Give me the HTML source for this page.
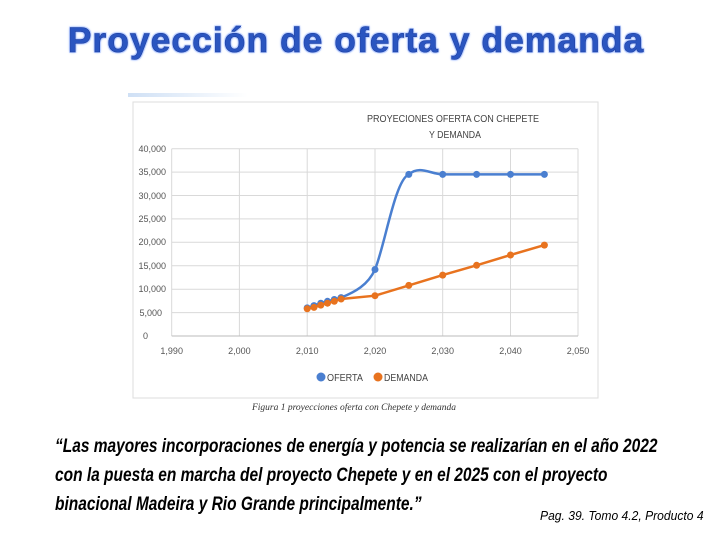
<!DOCTYPE html>
<html><head><meta charset="utf-8"><style>
body{margin:0;width:720px;height:540px;background:#fff;position:relative;overflow:hidden;font-family:"Liberation Sans",sans-serif}
.t{position:absolute;left:-4px;width:720px;top:20px;text-align:center;font-weight:bold;font-size:35.5px;color:#2a55c0;letter-spacing:1px;-webkit-text-stroke:0.5px #1a3a9a;text-shadow:0 0 2px #9ab8ff,0 0 3px #b8ccff,1px 1px 0 #c8d8ff,-1px -1px 0 #c8d8ff,1px -1px 0 #c8d8ff,-1px 1px 0 #c8d8ff}
.q{position:absolute;left:55px;white-space:nowrap;transform:scaleX(0.815);transform-origin:0 0;font-weight:bold;font-style:italic;font-size:19px;color:#000}
.p{position:absolute;left:540px;top:508px;white-space:nowrap;transform:scaleX(0.93);transform-origin:0 0;font-style:italic;font-size:13px}
</style></head><body>
<div class="t">Proyección de oferta y demanda</div>
<svg width="720" height="540" style="position:absolute;left:0;top:0" font-family="Liberation Sans, sans-serif">
<defs><linearGradient id="g" x1="0" x2="1"><stop offset="0" stop-color="#cfe0f5"/><stop offset="1" stop-color="#fff"/></linearGradient></defs>
<rect x="128" y="93" width="120" height="4" fill="url(#g)"/>
<rect x="133" y="102" width="465" height="296" fill="#fff" stroke="#ddd"/>
<text x="453" y="122" font-size="10.5" text-anchor="middle" fill="#444" textLength="172" lengthAdjust="spacingAndGlyphs">PROYECIONES  OFERTA CON  CHEPETE</text>
<text x="455" y="138" font-size="10.5" text-anchor="middle" fill="#444" textLength="52" lengthAdjust="spacingAndGlyphs">Y DEMANDA</text>
<g stroke="#d9d9d9" stroke-width="1">
<line x1="171.7" y1="148.7" x2="578" y2="148.7"/><line x1="171.7" y1="172.1" x2="578" y2="172.1"/>
<line x1="171.7" y1="195.5" x2="578" y2="195.5"/><line x1="171.7" y1="218.9" x2="578" y2="218.9"/>
<line x1="171.7" y1="242.3" x2="578" y2="242.3"/><line x1="171.7" y1="265.8" x2="578" y2="265.8"/>
<line x1="171.7" y1="289.2" x2="578" y2="289.2"/><line x1="171.7" y1="312.6" x2="578" y2="312.6"/>
<line x1="171.7" y1="148.7" x2="171.7" y2="336"/><line x1="239.4" y1="148.7" x2="239.4" y2="336"/>
<line x1="307.2" y1="148.7" x2="307.2" y2="336"/><line x1="375" y1="148.7" x2="375" y2="336"/>
<line x1="442.7" y1="148.7" x2="442.7" y2="336"/><line x1="510.5" y1="148.7" x2="510.5" y2="336"/>
<line x1="578" y1="148.7" x2="578" y2="336"/>
</g>
<line x1="171.7" y1="336" x2="578" y2="336" stroke="#bbb"/>
<g font-size="9" fill="#555" text-anchor="end">
<text x="166" y="152">40,000</text><text x="166" y="175">35,000</text><text x="166" y="199">30,000</text>
<text x="166" y="222">25,000</text><text x="166" y="245">20,000</text><text x="166" y="269">15,000</text>
<text x="166" y="292">10,000</text><text x="162" y="316">5,000</text><text x="148" y="339">0</text>
</g>
<g font-size="9" fill="#555" text-anchor="middle">
<text x="171.7" y="354">1,990</text><text x="239.4" y="354">2,000</text><text x="307.2" y="354">2,010</text>
<text x="375" y="354">2,020</text><text x="442.7" y="354">2,030</text><text x="510.5" y="354">2,040</text><text x="578" y="354">2,050</text>
</g>
<path d="M307.2,307.9 L314,305.6 L320.8,303.2 L327.5,301.3 L334.3,299.5 L341.1,297.6 C355,292 368,285 375,269.5 C385,245 395,180 408.8,174.4 C420,165 430,174 442.7,174.4 L544.4,174.4" fill="none" stroke="#4a7fd0" stroke-width="2.5"/>
<g fill="#4a7fd0"><circle cx="307.2" cy="307.9" r="3.5"/><circle cx="314" cy="305.6" r="3.5"/><circle cx="320.8" cy="303.2" r="3.5"/><circle cx="327.5" cy="301.3" r="3.5"/><circle cx="334.3" cy="299.5" r="3.5"/><circle cx="341.1" cy="297.6" r="3.5"/><circle cx="375" cy="269.5" r="3.5"/><circle cx="408.8" cy="174.4" r="3.5"/><circle cx="442.7" cy="174.4" r="3.5"/><circle cx="476.6" cy="174.4" r="3.5"/><circle cx="510.5" cy="174.4" r="3.5"/><circle cx="544.4" cy="174.4" r="3.5"/></g>
<polyline points="307.2,308.8 314,307.4 320.8,305.1 327.5,303.2 334.3,301.3 341.1,299 375,295.7 408.8,285.4 442.7,275.1 476.6,265.3 510.5,255 544.4,245.1" fill="none" stroke="#e8731f" stroke-width="2.5"/>
<g fill="#e8731f"><circle cx="307.2" cy="308.8" r="3.5"/><circle cx="314" cy="307.4" r="3.5"/><circle cx="320.8" cy="305.1" r="3.5"/><circle cx="327.5" cy="303.2" r="3.5"/><circle cx="334.3" cy="301.3" r="3.5"/><circle cx="341.1" cy="299" r="3.5"/><circle cx="375" cy="295.7" r="3.5"/><circle cx="408.8" cy="285.4" r="3.5"/><circle cx="442.7" cy="275.1" r="3.5"/><circle cx="476.6" cy="265.3" r="3.5"/><circle cx="510.5" cy="255" r="3.5"/><circle cx="544.4" cy="245.1" r="3.5"/></g>
<circle cx="321" cy="377" r="4.5" fill="#4a7fd0"/>
<text x="327" y="381" font-size="10.5" fill="#444" textLength="36" lengthAdjust="spacingAndGlyphs">OFERTA</text>
<circle cx="378" cy="377" r="4.5" fill="#e8731f"/>
<text x="384" y="381" font-size="10.5" fill="#444" textLength="44" lengthAdjust="spacingAndGlyphs">DEMANDA</text>
<text x="354" y="410" font-size="9.5" font-style="italic" font-family="Liberation Serif, serif" fill="#333" text-anchor="middle">Figura  1 proyecciones  oferta con  Chepete y demanda</text>
</svg>
<div class="q" style="top:436px">“Las mayores incorporaciones de energía y potencia se realizarían en el año 2022</div>
<div class="q" style="top:465px">con la puesta en marcha del proyecto Chepete y en el 2025 con el proyecto</div>
<div class="q" style="top:494px">binacional Madeira y Rio Grande principalmente.”</div>
<div class="p">Pag. 39. Tomo 4.2, Producto 4</div>
</body></html>
